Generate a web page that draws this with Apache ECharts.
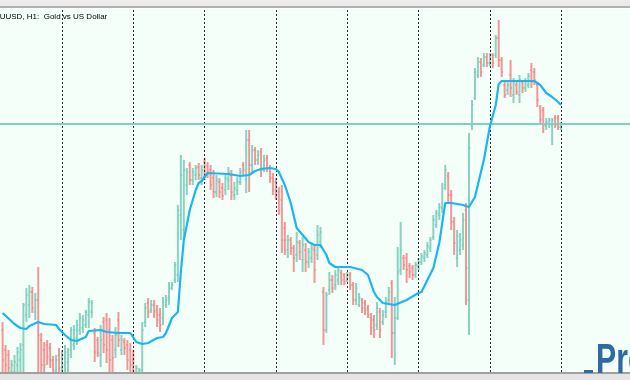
<!DOCTYPE html>
<html>
<head>
<meta charset="utf-8">
<script src="https://cdn.jsdelivr.net/npm/echarts@6/dist/echarts.min.js"></script>
<style>
html,body{margin:0;padding:0;background:#ffffff;}
#chart{width:630px;height:380px;}
</style>
</head>
<body>
<div id="chart"></div>
<script>
// ---- data (XAUUSD H1) ----
const chartTitle = "XAUUSD, H1:  Gold vs US Dollar";

const opens = [
1307.0,1305.0,1304.5,1302.8,1302.8,1303.5,1304.0,1305.5,1308.5,1309.5,
1310.8,1308.8,1310.0,1306.0,1305.0,1305.5,1305.2,1304.0,1302.8,1304.5,
1303.0,1303.5,1303.8,1305.0,1305.5,1306.2,1307.0,1307.2,1307.5,1308.5,
1308.8,1306.7,1306.0,1304.5,1307.8,1308.0,1307.0,1306.0,1305.0,1308.0,
1305.0,1305.8,1305.5,1305.0,1304.0,1302.6,1302.6,1303.0,1307.8,1309.7,
1309.0,1309.5,1309.0,1308.5,1308.2,1309.5,1310.2,1311.2,1312.0,1312.5,
1318.5,1317.0,1321.5,1323.5,1322.0,1322.5,1323.3,1322.2,1323.8,1323.4,
1323.0,1322.2,1320.8,1321.8,1321.2,1321.0,1322.0,1322.5,1320.5,1321.0,
1321.8,1323.5,1322.0,1326.0,1323.5,1325.0,1324.0,1324.8,1323.2,1324.2,
1323.2,1322.2,1321.8,1320.8,1320.0,1317.2,1315.0,1316.0,1315.2,1314.5,
1315.7,1314.0,1315.0,1313.8,1314.2,1315.0,1314.5,1315.8,1310.8,1307.0,
1311.0,1312.0,1311.5,1312.0,1312.7,1312.5,1312.0,1312.5,1311.5,1310.0,
1309.5,1310.0,1309.7,1309.2,1308.2,1308.0,1307.5,1308.8,1307.8,1308.8,
1310.0,1311.7,1306.7,1308.2,1313.0,1314.2,1314.2,1313.4,1313.2,1312.5,
1313.4,1313.8,1314.2,1314.5,1315.2,1316.3,1317.5,1318.5,1319.2,1321.5,
1322.4,1320.5,1317.8,1314.2,1315.0,1315.5,1319.0,1310.0,1327.5,1330.2,
1332.5,1333.8,1333.5,1334.3,1333.7,1334.5,1334.5,1336.2,1334.0,1331.5,
1331.0,1332.5,1330.5,1331.5,1330.5,1331.8,1331.2,1331.5,1333.0,1332.8,
1331.5,1329.2,1329.0,1327.4,1327.6,1327.5,1328.2,1328.2,1327.3];

const highs = [
1307.8,1305.5,1305.0,1304.0,1304.5,1305.3,1305.7,1309.7,1311.2,1311.5,
1311.3,1310.7,1313.3,1306.7,1305.8,1306.0,1305.7,1304.4,1304.5,1305.2,
1305.0,1305.5,1305.2,1307.3,1307.5,1308.0,1308.7,1308.5,1309.0,1310.2,
1310.0,1307.2,1306.3,1307.5,1308.3,1308.7,1308.2,1306.5,1307.3,1308.8,
1306.5,1306.2,1306.0,1305.7,1305.0,1303.5,1303.2,1307.8,1309.7,1310.2,
1310.0,1310.0,1309.5,1309.2,1310.3,1310.5,1311.8,1311.8,1313.8,1319.5,
1324.5,1324.0,1323.2,1323.8,1323.2,1323.5,1323.7,1323.5,1324.2,1323.8,
1323.5,1323.0,1322.5,1322.2,1321.7,1322.7,1323.3,1323.0,1321.8,1322.3,
1323.2,1323.8,1327.0,1327.0,1325.5,1325.3,1325.0,1325.2,1324.5,1324.5,
1323.5,1322.7,1322.2,1321.3,1321.5,1317.8,1316.5,1316.3,1315.5,1316.8,
1316.0,1316.3,1315.7,1315.2,1315.7,1315.5,1317.5,1317.3,1311.3,1310.8,
1312.8,1312.5,1313.0,1313.3,1313.0,1312.7,1312.8,1312.8,1311.8,1311.7,
1310.7,1310.2,1310.0,1309.5,1308.7,1308.5,1309.8,1309.2,1309.0,1310.3,
1311.3,1312.0,1310.3,1315.3,1317.8,1314.5,1314.7,1313.7,1313.5,1313.8,
1314.2,1314.7,1315.0,1315.8,1316.3,1318.5,1319.0,1319.7,1321.7,1323.5,
1322.8,1321.0,1318.3,1317.0,1316.7,1318.7,1319.7,1326.7,1330.0,1333.2,
1334.3,1334.2,1334.7,1334.7,1334.7,1334.7,1336.5,1338.0,1334.3,1331.8,
1331.8,1334.0,1332.2,1331.8,1332.5,1332.0,1332.2,1332.7,1333.7,1333.2,
1331.8,1329.5,1329.3,1328.2,1328.2,1328.2,1328.5,1328.5,1327.8];

const lows = [
1302.5,1302.5,1302.5,1302.4,1302.4,1302.5,1302.5,1302.5,1307.8,1308.2,
1308.7,1308.0,1302.8,1302.5,1302.8,1303.5,1303.2,1302.4,1302.4,1302.4,
1302.4,1302.4,1302.8,1304.2,1305.0,1305.5,1306.5,1306.7,1307.2,1307.2,
1308.2,1303.8,1304.3,1303.3,1304.7,1303.7,1302.7,1302.7,1304.2,1305.3,
1304.5,1304.5,1303.0,1302.5,1302.4,1302.4,1302.4,1302.4,1307.3,1308.2,
1308.7,1308.2,1307.3,1306.8,1307.5,1309.2,1309.5,1311.0,1311.7,1311.8,
1316.0,1316.0,1320.5,1321.5,1321.5,1322.0,1322.0,1321.5,1322.0,1322.2,
1321.0,1320.2,1320.3,1320.2,1320.0,1320.5,1321.0,1320.0,1320.0,1320.5,
1321.5,1322.5,1320.7,1320.8,1322.8,1323.5,1323.5,1322.3,1322.8,1322.8,
1321.7,1320.5,1320.0,1318.5,1314.7,1314.5,1314.2,1314.5,1312.8,1313.8,
1314.0,1312.8,1312.8,1313.2,1313.7,1311.7,1314.0,1315.2,1305.5,1306.7,
1310.5,1310.7,1311.0,1311.5,1311.5,1311.5,1311.8,1311.0,1309.5,1309.5,
1309.3,1308.7,1308.5,1308.2,1306.5,1306.2,1307.0,1306.2,1307.5,1308.2,
1309.7,1304.2,1303.5,1308.0,1312.5,1313.0,1311.7,1312.2,1312.0,1312.2,
1313.0,1313.5,1313.8,1314.2,1314.8,1316.0,1317.2,1318.0,1318.7,1321.0,
1319.7,1317.0,1314.5,1313.3,1314.5,1315.0,1309.5,1306.5,1327.0,1330.0,
1332.2,1332.3,1333.3,1333.3,1333.4,1333.2,1334.2,1333.3,1332.3,1330.2,
1330.5,1330.3,1329.7,1330.5,1329.7,1330.7,1330.8,1331.2,1331.2,1331.5,
1329.3,1327.5,1326.7,1327.0,1327.2,1325.5,1327.2,1327.0,1327.0];

const closes = [
1304.0,1303.5,1303.2,1303.5,1303.8,1304.8,1305.0,1309.5,1310.5,1310.8,
1309.2,1310.0,1306.5,1303.5,1303.5,1304.3,1304.0,1303.0,1304.0,1303.2,
1304.5,1304.8,1304.5,1307.0,1307.0,1307.5,1308.2,1308.0,1308.8,1309.8,
1309.7,1304.8,1304.7,1306.0,1305.5,1305.0,1304.0,1304.2,1306.5,1306.0,
1306.0,1305.2,1304.0,1303.5,1302.8,1303.2,1303.0,1307.0,1309.2,1308.8,
1309.5,1308.8,1308.0,1307.5,1309.7,1310.0,1311.2,1311.5,1313.5,1319.0,
1322.5,1323.0,1322.8,1322.0,1322.8,1323.2,1322.5,1323.0,1322.5,1322.8,
1321.5,1320.8,1322.0,1320.8,1320.4,1322.2,1322.8,1320.8,1321.2,1321.8,
1322.8,1323.0,1326.0,1323.5,1325.0,1324.0,1324.5,1323.0,1324.0,1323.2,
1322.2,1321.0,1320.5,1319.0,1316.0,1316.0,1316.0,1315.2,1314.2,1315.8,
1314.8,1315.5,1313.8,1314.8,1315.2,1313.0,1316.5,1316.8,1307.0,1310.5,
1312.0,1311.2,1312.5,1313.0,1312.0,1311.8,1312.5,1311.5,1310.0,1311.2,
1310.2,1309.2,1309.0,1308.5,1307.2,1307.0,1309.2,1307.0,1308.5,1309.8,
1310.8,1306.7,1308.2,1312.8,1315.0,1313.5,1313.0,1312.8,1312.5,1313.5,
1313.8,1314.4,1314.7,1315.4,1316.0,1318.0,1318.7,1319.3,1321.2,1323.0,
1320.5,1317.8,1315.7,1316.4,1316.0,1318.0,1313.2,1325.2,1329.5,1332.8,
1333.8,1332.8,1334.3,1333.7,1334.3,1333.7,1336.2,1334.0,1332.8,1330.5,
1331.5,1331.2,1331.8,1330.8,1332.0,1331.2,1331.8,1332.4,1331.8,1332.0,
1330.0,1328.0,1327.5,1327.8,1328.0,1328.0,1327.5,1327.3,1327.6];

// moving average (read at these bar positions)
const maBars = [0,4,6,8,9,12,14,18,19,21,23,25,28,29,33,35,39,43,45,47,49,52,54,55,57,59,60,61,63,65,66,67,69,76,80,83,85,87,90,92,93,95,97,99,103,105,107,109,110,112,117,121,123,125,126,128,132,136,140,141,143,145,147,149,151,155,157,159,162,164,166,167,168,179,181,183,185,187,188];
const maValues = [1308.7,1307.6,1307.2,1307.1,1307.4,1307.8,1307.6,1307.5,1307.1,1306.5,1306.0,1305.9,1306.3,1306.9,1307.0,1306.8,1306.7,1306.7,1305.8,1305.6,1305.7,1306.2,1306.3,1306.7,1308.2,1308.8,1312.8,1316.0,1319.0,1321.0,1321.7,1321.9,1322.7,1322.6,1322.4,1322.5,1322.9,1323.1,1323.2,1323.1,1322.8,1321.5,1319.7,1317.2,1315.8,1315.5,1315.5,1314.5,1313.7,1313.3,1313.3,1313.0,1312.5,1310.8,1310.3,1309.7,1309.5,1310.0,1310.7,1310.8,1312.0,1313.2,1315.7,1319.7,1319.7,1319.5,1319.3,1320.3,1324.0,1327.3,1329.5,1331.6,1331.9,1331.9,1331.5,1330.7,1330.3,1329.8,1329.5];

const levelPrice = 1327.6;                 // horizontal level line
const separatorBars = [20,44,68,92,116,140,164,188]; // period separators (bar index)

// ---- build ----
const rows = opens.map((o, i) => [i, o, highs[i], lows[i], closes[i]]);
const maData = maBars.map((b, k) => [b, maValues[k]]);

const GREEN = '#8ad2c2', RED = '#f29696';
const GREEN_T = '#6cc0ae', RED_T = '#e87b7b';

function renderOHLC(params, api) {
  const i = api.value(0), o = api.value(1), h = api.value(2), l = api.value(3), c = api.value(4);
  const pH = api.coord([i, h]), pL = api.coord([i, l]);
  const pO = api.coord([i, o]), pC = api.coord([i, c]);
  const up = c >= o;
  const col = up ? GREEN : RED, tcol = up ? GREEN_T : RED_T;
  const x = pH[0];
  return {
    type: 'group',
    children: [
      {type: 'line', shape: {x1: x, y1: pH[1], x2: x, y2: pL[1]}, style: {stroke: col, lineWidth: 2}},
      {type: 'line', shape: {x1: x - 1.4, y1: pO[1], x2: x, y2: pO[1]}, style: {stroke: tcol, lineWidth: 1}},
      {type: 'line', shape: {x1: x, y1: pC[1], x2: x + 1.4, y2: pC[1]}, style: {stroke: tcol, lineWidth: 1}}
    ]
  };
}

const chart = echarts.init(document.getElementById('chart'), null, {renderer: 'canvas'});
const markData = separatorBars.map(b => ({xAxis: b, lineStyle: {color: '#2a2a2a', width: 1, type: [2, 2]}}));
markData.push({yAxis: levelPrice, lineStyle: {color: '#80cfc1', width: 2, type: 'solid'}});

chart.setOption({
  animation: false,
  backgroundColor: '#ffffff',
  grid: {left: 0, right: 0, top: 9, bottom: 8, show: true, backgroundColor: '#f4fff9', borderWidth: 0},
  xAxis: {type: 'value', min: -0.88, max: 211.2, show: false},
  yAxis: {type: 'value', min: 1302.8, max: 1339.1, show: false},
  series: [
    {
      type: 'custom', name: 'XAUUSD', renderItem: renderOHLC, data: rows,
      encode: {x: 0, y: [1, 2, 3, 4]}, clip: true, z: 3
    },
    {
      type: 'line', name: 'MA', data: maData, showSymbol: false, smooth: false,
      lineStyle: {color: '#1db4f2', width: 2.2}, itemStyle: {color: '#1db4f2'}, z: 5, clip: true,
      markLine: {silent: true, symbol: 'none', label: {show: false}, animation: false, data: markData}
    }
  ],
  graphic: [
    {type: 'rect', shape: {x: 0, y: 0, width: 630, height: 6}, style: {fill: '#ececec'}, z: 10},
    {type: 'rect', shape: {x: 0, y: 6, width: 630, height: 2}, style: {fill: '#b0b0b0'}, z: 10},
    {type: 'rect', shape: {x: 0, y: 372, width: 630, height: 2}, style: {fill: '#a0a0a0'}, z: 10},
    {type: 'rect', shape: {x: 0, y: 374, width: 630, height: 6}, style: {fill: '#e4e4e4'}, z: 10},
    {type: 'text', x: -11, y: 13, style: {text: chartTitle, font: '8px "Liberation Sans", Arial, sans-serif', fill: '#000000'}, z: 11},
    {type: 'rect', shape: {x: 584, y: 370, width: 9, height: 3}, style: {fill: '#2d6ba3'}, z: 11},
    {type: 'text', x: 596, y: 382, scaleX: 0.72, style: {text: 'Pro', font: 'bold 42px "Liberation Sans", Arial, sans-serif', fill: '#2c6aa4', verticalAlign: 'bottom'}, z: 11}
  ]
});
</script>
</body>
</html>
